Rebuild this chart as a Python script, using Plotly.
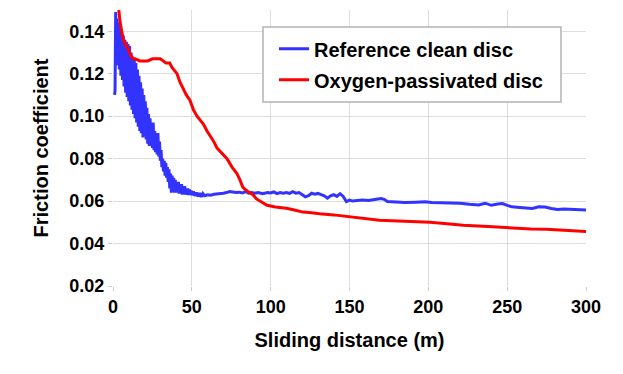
import plotly.graph_objects as go

# Reference clean disc (blue)
blue_x = [1.0, 1.3, 1.7, 2.2, 2.6, 3.0, 3.5, 4.0, 4.5, 5.0, 5.5, 6.0, 6.5, 7.0, 7.5, 8.0, 8.5, 9.0, 9.5, 10.0,
          10.5, 11.0, 11.5, 12.0, 12.5, 13.0, 13.5, 14.0, 14.5, 15.0, 15.5, 16.0, 16.5, 17.0, 17.5, 18.0, 18.5, 19.0, 19.5, 20.0,
          20.5, 21.0, 21.5, 22.0, 22.5, 23.0, 23.5, 24.0, 24.5, 25.0, 25.5, 26.0, 26.5, 27.0, 27.5, 28.0, 28.5, 29.0, 29.5, 30.0,
          30.5, 31.0, 31.5, 32.0, 32.5, 33.0, 33.5, 34.0, 34.5, 35.0, 35.5, 36.0, 36.5, 37.0, 37.5, 38.0, 38.5, 39.0, 39.5, 40.0,
          40.5, 41.0, 41.5, 42.0, 42.5, 43.0, 43.5, 44.0, 44.5, 45.0, 45.5, 46.0, 46.5, 47.0, 47.5, 48.0, 48.5, 49.0, 49.5, 50.0,
          51, 52, 53, 54, 55, 56, 57, 58, 60, 62, 64, 66, 68, 70, 72, 74, 76, 78, 80, 82, 84, 86, 88, 90, 92, 95, 98,
          100, 102, 104, 106, 108, 110, 112, 114, 116, 118, 120, 122, 124, 126, 128, 130, 132, 134, 136, 138, 140,
          142, 144, 146, 148, 150, 152, 155, 158, 162, 165, 168, 170, 172, 174, 178, 185, 192, 198, 202, 206, 212,
          220, 226, 232, 236, 240, 244, 247, 250, 253, 258, 262, 266, 270, 274, 278, 282, 286, 292, 296, 300]
blue_y = [0.110, 0.112, 0.149, 0.128, 0.146, 0.124, 0.144, 0.122, 0.142, 0.119, 0.140, 0.117, 0.138, 0.114, 0.136, 0.111, 0.135, 0.109, 0.134, 0.107,
          0.133, 0.105, 0.130, 0.103, 0.128, 0.101, 0.127, 0.099, 0.125, 0.097, 0.122, 0.095, 0.119, 0.093, 0.116, 0.092, 0.113, 0.090, 0.110, 0.091,
          0.107, 0.089, 0.104, 0.087, 0.101, 0.086, 0.099, 0.086, 0.097, 0.085, 0.097, 0.084, 0.093, 0.083, 0.091, 0.082, 0.092, 0.081, 0.088, 0.079,
          0.084, 0.076, 0.080, 0.074, 0.079, 0.072, 0.078, 0.071, 0.076, 0.069, 0.075, 0.066, 0.073, 0.064, 0.072, 0.065, 0.071, 0.064, 0.070, 0.064,
          0.069, 0.064, 0.069, 0.0635, 0.068, 0.0635, 0.068, 0.063, 0.067, 0.063, 0.067, 0.063, 0.066, 0.063, 0.066, 0.0628, 0.0655, 0.0628, 0.065, 0.0628,
          0.0645, 0.0625, 0.064, 0.0622, 0.0638, 0.062, 0.0635, 0.0625, 0.063, 0.0628, 0.0632, 0.0633, 0.0636, 0.0637, 0.064, 0.0645, 0.0643, 0.064, 0.0642, 0.0638, 0.0645, 0.0637, 0.064, 0.0637, 0.064, 0.0635, 0.064,
          0.0638, 0.0643, 0.0635, 0.064, 0.0637, 0.064, 0.0636, 0.0644, 0.0637, 0.064, 0.0628, 0.062, 0.0625, 0.0637, 0.0632, 0.0636, 0.063, 0.0625, 0.0614, 0.0625, 0.063,
          0.0622, 0.0635, 0.0622, 0.0598, 0.0605, 0.060, 0.0602, 0.0605, 0.0603, 0.0608, 0.061, 0.0612, 0.0608, 0.0598, 0.0595, 0.0593, 0.0595, 0.0597, 0.0593, 0.0593, 0.059,
          0.059, 0.0585, 0.0582, 0.059, 0.058, 0.0586, 0.0588, 0.058, 0.0573, 0.057, 0.0568, 0.0565, 0.0573, 0.0572, 0.0565, 0.056, 0.0563, 0.0561, 0.056, 0.0558]

# Oxygen-passivated disc (red)
red_x = [2.5, 3.5, 4.4, 5.5, 6.3, 7.6, 9.5, 11.0, 12.7, 14.0, 17.0, 20.0, 22.0, 25.0, 28.0, 30.0, 33.6, 36.0, 37.4, 40.6,
         42.5, 44.4, 46.5, 48.8, 51.0, 53.3, 55.2, 57.5, 59.6, 61.5, 63.4, 66.0, 69.0, 72.3, 75.5, 78.6, 80.5, 82.4, 85.5, 88.8,
         91.0, 93.2, 97.7, 103, 110, 115, 120.5, 126, 131, 140, 148, 158, 169, 185, 201, 212, 222, 238, 254, 265, 275, 288, 300]
red_y = [0.158, 0.150, 0.145, 0.140, 0.137, 0.134, 0.132, 0.129, 0.127, 0.127, 0.126, 0.126, 0.126, 0.127, 0.127, 0.127, 0.125, 0.125, 0.123, 0.120,
         0.116, 0.113, 0.110, 0.1075, 0.103, 0.100, 0.098, 0.096, 0.093, 0.091, 0.0887, 0.085, 0.0825, 0.080, 0.076, 0.073, 0.070, 0.0665, 0.0645, 0.063,
         0.061, 0.060, 0.058, 0.0572, 0.0566, 0.0558, 0.0548, 0.0545, 0.054, 0.0535, 0.0528, 0.052, 0.051, 0.0505, 0.050, 0.0493, 0.0486, 0.048, 0.0472, 0.0468, 0.0467, 0.046, 0.0457]

x_ticks = [0, 50, 100, 150, 200, 250, 300]
y_ticks = [0.02, 0.04, 0.06, 0.08, 0.10, 0.12, 0.14]
y_tick_text = ["0.02", "0.04", "0.06", "0.08", "0.10", "0.12", "0.14"]

FONT = "Liberation Sans, Arial, sans-serif"

fig = go.Figure()
fig.add_trace(go.Scatter(x=blue_x, y=blue_y, mode="lines", name="Reference clean disc",
                         legendgroup="a", line=dict(color="#3333ff", width=3)))
fig.add_trace(go.Scatter(x=red_x, y=red_y, mode="lines", name="Oxygen-passivated disc",
                         legendgroup="b", line=dict(color="#ff0000", width=3)))

# legend frame
fig.add_shape(type="rect", xref="paper", yref="paper", x0=0.3171, x1=0.9471, y0=0.6667, y1=0.9384,
              line=dict(color="#b3b3b3", width=1.5), fillcolor="white", layer="above")

fig.update_layout(
    width=615, height=366,
    margin=dict(l=105, r=37, t=2, b=88),
    paper_bgcolor="white", plot_bgcolor="white",
    font=dict(family=FONT, size=18, color="black"),
    legend=dict(x=0.3404, y=0.93, xanchor="left", yanchor="top",
                borderwidth=0, bgcolor="rgba(0,0,0,0)",
                font=dict(family=FONT, size=20, color="black", weight="bold"),
                itemwidth=30, tracegroupgap=2, traceorder="grouped"),
    showlegend=True,
)
fig.update_xaxes(range=[0, 300], tickvals=x_ticks, showgrid=True, gridcolor="#dddddd", gridwidth=1,
                 zeroline=False, showline=False, ticks="outside", ticklen=4, tickcolor="#cccccc",
                 automargin=False,
                 tickfont=dict(family=FONT, size=18, weight="bold"),
                 title=dict(text="Sliding distance (m)", font=dict(family=FONT, size=20, weight="bold"), standoff=17))
fig.update_yaxes(range=[0.02, 0.15], tickvals=y_ticks, ticktext=y_tick_text, showgrid=True, gridcolor="#dddddd", gridwidth=1,
                 zeroline=False, showline=False, ticks="outside", ticklen=4, tickcolor="#cccccc",
                 automargin=False,
                 tickfont=dict(family=FONT, size=18, weight="bold"),
                 title=dict(text="Friction coefficient", font=dict(family=FONT, size=20, weight="bold"), standoff=15))

fig.write_html("out.html")
